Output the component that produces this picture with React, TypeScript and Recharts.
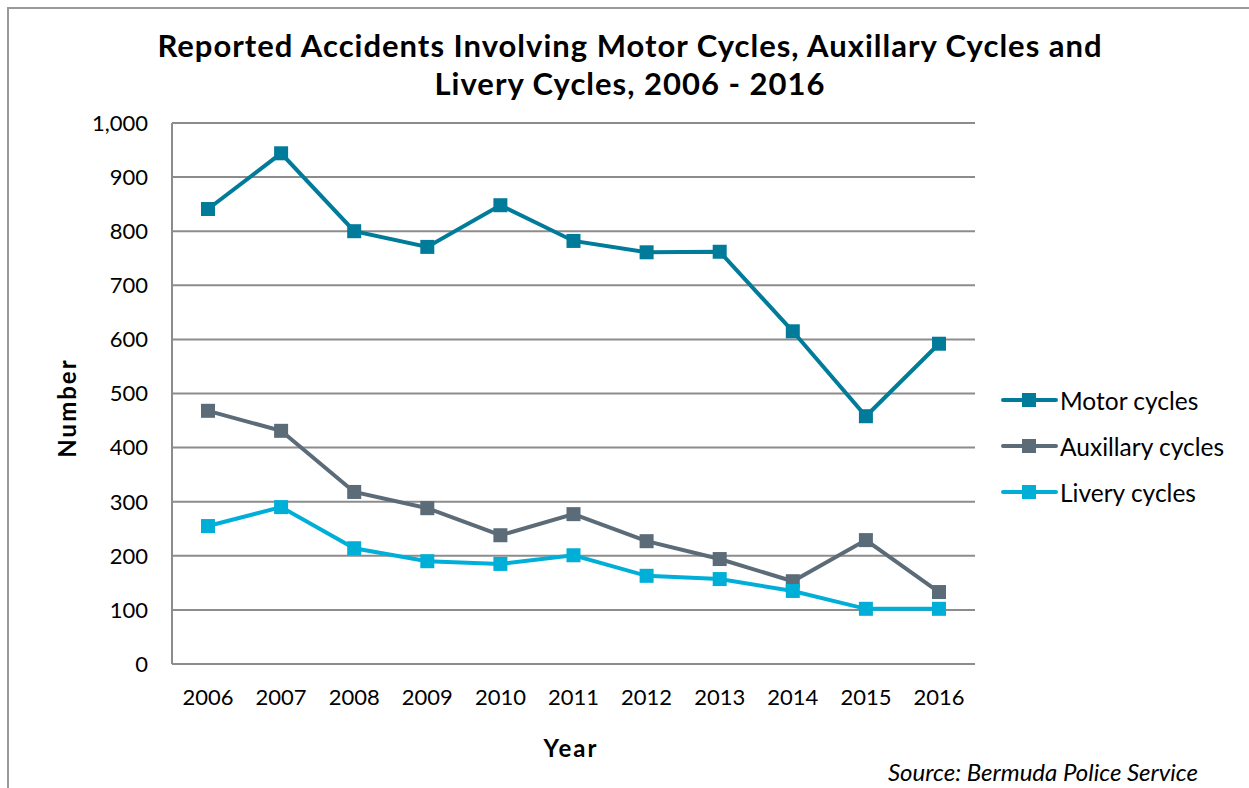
import React from 'react';
import { LineChart, Line, XAxis, YAxis, CartesianGrid, Legend } from 'recharts';

const years = ['2006', '2007', '2008', '2009', '2010', '2011', '2012', '2013', '2014', '2015', '2016'];
const motorCycles = [841, 944, 800, 771, 848, 782, 761, 762, 615, 458, 592];
const auxillaryCycles = [468, 431, 318, 288, 238, 277, 227, 194, 153, 229, 133];
const liveryCycles = [255, 290, 214, 190, 185, 201, 163, 157, 135, 102, 102];
const yTicks = [0, 100, 200, 300, 400, 500, 600, 700, 800, 900, 1000];

const seriesDefs = [
  { key: 'motor', name: 'Motor cycles', color: '#007C9A', values: motorCycles },
  { key: 'aux', name: 'Auxillary cycles', color: '#5B6B78', values: auxillaryCycles },
  { key: 'livery', name: 'Livery cycles', color: '#00AFD7', values: liveryCycles },
];

const data = years.map((y, i) => ({
  year: y,
  motor: motorCycles[i],
  aux: auxillaryCycles[i],
  livery: liveryCycles[i],
}));

const FONT = 'Lato, "Open Sans", sans-serif';

const squareDot = (color: string) => (props: any) => {
  const { cx, cy, index } = props;
  if (cx == null || cy == null) return <g key={index} />;
  return <rect key={index} x={cx - 7} y={cy - 7} width={14} height={14} fill={color} />;
};

const LegendContent = (props: any) => {
  const payload = [...(props.payload || [])];
  const order = seriesDefs.map((s) => s.name);
  payload.sort((a: any, b: any) => order.indexOf(a.value) - order.indexOf(b.value));
  return (
    <div style={{ fontFamily: FONT }}>
      {payload.map((p: any, i: number) => (
        <div key={i} style={{ display: 'flex', alignItems: 'center', height: 46 }}>
          <svg width={58} height={20} style={{ display: 'block' }}>
            <line x1={2} y1={10} x2={55} y2={10} stroke={p.color} strokeWidth={4} strokeLinecap="round" />
            <rect x={21} y={3} width={14} height={14} fill={p.color} />
          </svg>
          <span style={{ fontSize: 24.5, color: '#000', marginLeft: 1 }}>{p.value}</span>
        </div>
      ))}
    </div>
  );
};

export default function App() {
  return (
    <div style={{ position: 'absolute', left: 0, top: 0, width: 1249, height: 788, overflow: 'hidden', background: '#fff', fontFamily: FONT }}>
      <div style={{ position: 'absolute', left: 7, top: 7, width: 1300, height: 900, border: '2px solid #9a9a9a', boxSizing: 'border-box' }} />
      <div style={{ position: 'absolute', left: 0, top: 26, width: 1260, textAlign: 'center', fontSize: 31, fontWeight: 700, lineHeight: '38px', color: '#000', letterSpacing: 1 }}>
        <div>Reported Accidents Involving Motor Cycles, Auxillary Cycles and</div>
        <div>Livery Cycles, 2006 - 2016</div>
      </div>
      <div style={{ position: 'absolute', left: 66, top: 408, transform: 'translate(-50%, -50%) rotate(-90deg)', fontSize: 24, fontWeight: 700, letterSpacing: 2, whiteSpace: 'nowrap' }}>Number</div>
      <div style={{ position: 'absolute', left: 571, top: 747, transform: 'translate(-50%, -50%)', fontSize: 24, fontWeight: 700, letterSpacing: 2 }}>Year</div>
      <div style={{ position: 'absolute', right: 1249 - 1198, top: 771, transform: 'translateY(-50%)', fontSize: 24, fontStyle: 'italic', whiteSpace: 'nowrap' }}>Source: Bermuda Police Service</div>
      <div style={{ position: 'absolute', left: 0, top: 0 }}>
        <LineChart width={1249} height={788} data={data} margin={{ top: 123, right: 34, bottom: 0, left: 0 }}>
          <CartesianGrid vertical={false} stroke="#8c8c8c" strokeWidth={2} />
          <XAxis
            dataKey="year"
            tickLine={false}
            tickSize={0}
            tickMargin={25}
            padding={{ left: 36, right: 36 }}
            axisLine={{ stroke: '#8c8c8c', strokeWidth: 2 }}
            tick={{ fill: '#000', fontSize: 22, fontFamily: FONT }}
            interval={0}
            height={124}
          />
          <YAxis
            width={172}
            domain={[0, 1000]}
            ticks={yTicks}
            tickLine={false}
            tickSize={0}
            tickMargin={24}
            axisLine={{ stroke: '#8c8c8c', strokeWidth: 2 }}
            tick={{ fill: '#000', fontSize: 22, fontFamily: FONT }}
            tickFormatter={(v: number) => v.toLocaleString('en-US')}
            interval={0}
          />
          <Legend
            layout="vertical"
            align="right"
            verticalAlign="top"
            content={LegendContent}
            wrapperStyle={{ position: 'absolute', left: 1001, top: 377, width: 240 }}
          />
          {seriesDefs.map((s) => (
            <Line
              key={s.key}
              dataKey={s.key}
              name={s.name}
              stroke={s.color}
              strokeWidth={4}
              dot={squareDot(s.color)}
              activeDot={false}
              isAnimationActive={false}
            />
          ))}
        </LineChart>
      </div>
    </div>
  );
}
